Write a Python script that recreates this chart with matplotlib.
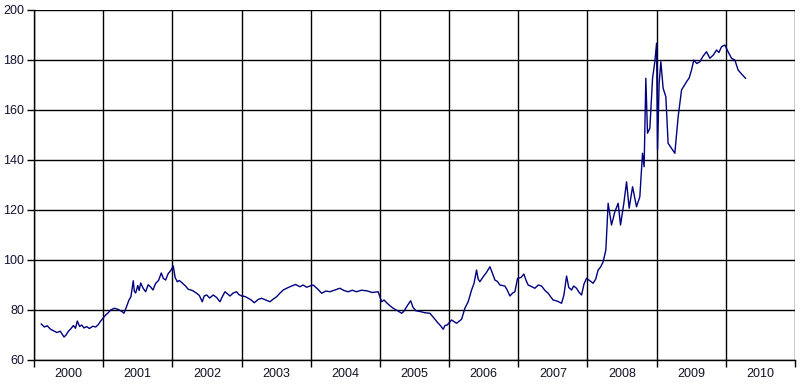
import matplotlib
matplotlib.use('Agg')
import matplotlib.pyplot as plt

# decimal year and value, one row per year
years = [
    2000.105, 2000.15, 2000.19, 2000.24, 2000.289, 2000.33, 2000.38, 2000.434, 2000.46, 2000.50,
    2000.530, 2000.57, 2000.60, 2000.626, 2000.66, 2000.69, 2000.723, 2000.76, 2000.80, 2000.85,
    2000.892, 2000.93, 2000.964,
    2001.036, 2001.07, 2001.108, 2001.16, 2001.22, 2001.276, 2001.30, 2001.325, 2001.373, 2001.40,
    2001.435, 2001.45, 2001.470, 2001.50, 2001.52, 2001.542, 2001.58, 2001.614, 2001.65, 2001.686,
    2001.72, 2001.759, 2001.80, 2001.840, 2001.87, 2001.903, 2001.94, 2001.975,
    2002.013, 2002.04, 2002.071, 2002.10, 2002.143, 2002.19, 2002.230, 2002.29, 2002.351, 2002.39,
    2002.432, 2002.46, 2002.496, 2002.54, 2002.591, 2002.64, 2002.688, 2002.72, 2002.760, 2002.80,
    2002.832, 2002.88, 2002.929, 2002.96,
    2003.001, 2003.05, 2003.097, 2003.14, 2003.184, 2003.24, 2003.290, 2003.35, 2003.410, 2003.46,
    2003.507, 2003.55, 2003.603, 2003.66, 2003.724, 2003.78, 2003.844, 2003.89, 2003.941, 2003.99,
    2004.036, 2004.10, 2004.158, 2004.22, 2004.277, 2004.35, 2004.422, 2004.48, 2004.542, 2004.60,
    2004.663, 2004.73, 2004.808, 2004.89, 2004.975,
    2005.025, 2005.06, 2005.097, 2005.15, 2005.192, 2005.25, 2005.314, 2005.35, 2005.386, 2005.444,
    2005.48, 2005.520, 2005.58, 2005.650, 2005.723, 2005.78, 2005.843, 2005.88, 2005.915, 2005.94,
    2005.973,
    2006.036, 2006.07, 2006.108, 2006.15, 2006.181, 2006.228, 2006.276, 2006.325, 2006.36, 2006.397,
    2006.42, 2006.445, 2006.493, 2006.54, 2006.590, 2006.62, 2006.662, 2006.70, 2006.734, 2006.806,
    2006.84, 2006.879, 2006.92, 2006.951, 2006.990,
    2007.04, 2007.081, 2007.11, 2007.143, 2007.19, 2007.240, 2007.29, 2007.337, 2007.38, 2007.432,
    2007.47, 2007.504, 2007.56, 2007.626, 2007.66, 2007.698, 2007.73, 2007.770, 2007.80, 2007.842,
    2007.88, 2007.915, 2007.95, 2007.987,
    2008.082, 2008.12, 2008.154, 2008.19, 2008.227, 2008.266, 2008.299, 2008.348, 2008.396, 2008.444,
    2008.478, 2008.526, 2008.565, 2008.603, 2008.652, 2008.709, 2008.757, 2008.796, 2008.819, 2008.844,
    2008.868, 2008.902, 2008.941, 2008.974, 2008.999,
    2009.013, 2009.036, 2009.061, 2009.094, 2009.133, 2009.166, 2009.263, 2009.311, 2009.360, 2009.432,
    2009.47, 2009.504, 2009.538, 2009.58, 2009.624, 2009.67, 2009.721, 2009.769, 2009.82, 2009.866,
    2009.90, 2009.938, 2009.986,
    2010.033, 2010.082, 2010.130, 2010.178, 2010.227, 2010.285,
]
values = [
    74.4, 73.2, 73.7, 72.3, 71.6, 71.0, 71.5, 69.2, 69.9, 71.6,
    72.4, 73.8, 72.7, 75.6, 73.4, 74.0, 72.8, 73.4, 72.6, 73.5,
    73.2, 74.2, 75.6,
    78.0, 78.8, 80.0, 80.7, 80.2, 79.3, 78.7, 80.4, 84.0, 85.2,
    91.7, 87.5, 86.8, 89.8, 87.8, 90.8, 88.6, 87.3, 90.1, 89.2,
    88.0, 90.7, 91.8, 94.8, 92.6, 92.0, 94.6, 95.7,
    97.6, 93.0, 91.3, 91.8, 90.8, 89.6, 88.3, 87.8, 86.7, 85.8,
    83.3, 85.6, 86.0, 84.8, 86.0, 85.0, 83.3, 85.2, 87.3, 86.4,
    85.6, 86.8, 87.3, 86.2,
    85.6, 85.4, 84.7, 84.0, 82.9, 84.2, 84.7, 84.0, 83.3, 84.4,
    85.3, 86.6, 88.0, 88.8, 89.6, 90.2, 89.3, 90.0, 89.1, 89.6,
    90.0, 88.4, 86.7, 87.6, 87.3, 88.0, 88.7, 87.8, 87.3, 87.9,
    87.3, 87.9, 87.7, 87.0, 87.3,
    83.3, 84.0, 82.9, 81.6, 80.7, 79.8, 78.7, 79.6, 81.3, 83.7,
    81.0, 79.7, 79.4, 78.9, 78.7, 76.8, 74.7, 73.6, 72.3, 73.8,
    74.0,
    76.0, 75.4, 74.7, 75.6, 76.3, 80.7, 83.3, 88.0, 90.6, 96.0,
    92.4, 91.3, 93.3, 95.0, 97.3, 95.2, 92.0, 91.4, 90.0, 89.6,
    88.0, 85.6, 86.8, 87.3, 92.7,
    93.0, 94.4, 92.0, 90.0, 89.4, 88.7, 90.0, 89.6, 88.0, 86.7,
    85.2, 84.0, 83.6, 82.7, 86.0, 93.6, 89.0, 88.0, 89.6, 88.7,
    87.0, 86.0, 90.4, 92.7,
    90.7, 92.4, 96.0, 97.2, 99.3, 104.0, 122.7, 114.0, 119.3, 122.7,
    114.0, 122.7, 131.3, 120.7, 129.3, 121.3, 125.3, 142.7, 137.3, 172.7,
    150.7, 152.7, 172.7, 179.3, 186.7,
    144.0, 170.7, 179.3, 168.7, 165.3, 146.7, 142.7, 157.3, 168.0, 171.3,
    172.8, 176.0, 180.0, 178.6, 179.3, 181.5, 183.3, 180.7, 182.0, 184.0,
    183.0, 185.3, 186.0,
    183.3, 180.7, 180.0, 176.0, 174.4, 172.7,
]
year_labels = [str(y) for y in range(2000, 2011)]

plt.rcParams['font.family'] = ['Liberation Sans', 'DejaVu Sans']

fig = plt.figure(figsize=(8, 3.85), dpi=100)
ax = fig.add_axes([34 / 800, 25 / 385, 761 / 800, 350 / 385])

ax.plot(years, values, color='#000080', linewidth=1.0)

ax.set_xlim(2000, 2011)
ax.set_ylim(60, 200)

# year boundaries carry the grid, labels sit in the middle of each year
ax.set_xticks(range(2000, 2012))
ax.set_xticks([y + 0.5 for y in range(2000, 2011)], minor=True)
ax.set_xticklabels([])
ax.set_xticklabels(year_labels, minor=True)
ax.tick_params(axis='x', which='major', length=5, width=1, color='black', direction='out')
ax.tick_params(axis='x', which='minor', length=0, pad=6, labelsize=9, labelcolor='#111122')

ax.set_yticks(range(60, 201, 20))
ax.tick_params(axis='y', length=5, width=1, color='black', direction='out',
               labelsize=9, labelcolor='#111133', pad=2)

ax.grid(True, which='major', color='black', linewidth=1)
ax.set_axisbelow(True)

for s in ['top', 'right']:
    ax.spines[s].set_visible(False)
for s in ['left', 'bottom']:
    ax.spines[s].set_color('black')
    ax.spines[s].set_linewidth(1)

fig.savefig('out.png', dpi=100)
